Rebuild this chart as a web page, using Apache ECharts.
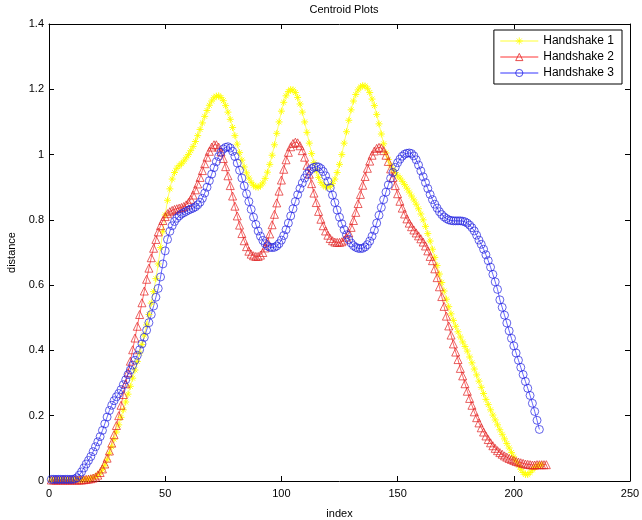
<!DOCTYPE html>
<html>
<head>
<meta charset="utf-8">
<script src="https://cdn.jsdelivr.net/npm/echarts@6/dist/echarts.min.js"></script>
<style>html,body{margin:0;padding:0;background:#fff;}#chart{width:642px;height:520px;}</style>
</head>
<body>
<div id="chart"></div>
<script>
const seriesNames = ['Handshake 1', 'Handshake 2', 'Handshake 3'];
const xTicks = [0, 50, 100, 150, 200, 250];
const yTicks = [0, 0.2, 0.4, 0.6, 0.8, 1, 1.2, 1.4];

const handshake1 = [
0.003,0.003,0.003,0.003,0.003,0.003,0.003,0.003,0.003,0.003,0.004,0.004,0.004,0.005,
0.005,0.006,0.007,0.008,0.010,
0.013,0.018,0.025,0.035,0.048,
0.065,0.085,0.105,0.128,0.150,
0.172,0.195,0.218,0.242,0.266,
0.290,0.315,0.340,0.366,0.392,
0.418,0.447,0.478,0.510,0.545,
0.580,0.620,0.665,0.715,0.765,
0.815,0.860,0.895,0.925,0.945,
0.958,0.966,0.972,0.980,0.990,
1.000,1.012,1.025,1.040,1.058,
1.077,1.097,1.117,1.135,1.151,
1.164,1.174,1.179,1.180,1.175,
1.165,1.150,1.130,1.108,1.083,
1.058,1.032,1.006,0.983,0.962,
0.944,0.928,0.915,0.906,0.901,
0.900,0.904,0.913,0.927,0.946,
0.970,0.998,1.030,1.065,1.100,
1.133,1.160,1.180,1.193,1.199,
1.198,1.190,1.175,1.155,1.130,
1.100,1.068,1.035,1.003,0.975,
0.950,0.930,0.915,0.906,0.901,
0.900,0.903,0.911,0.925,0.945,
0.970,1.000,1.035,1.070,1.105,
1.137,1.164,1.184,1.198,1.207,
1.211,1.210,1.203,1.190,1.170,
1.150,1.123,1.094,1.063,1.033,
1.005,0.985,0.968,0.955,0.945,
0.935,0.928,0.918,0.908,0.897,
0.885,0.873,0.861,0.848,0.834,
0.818,0.800,0.780,0.758,0.735,
0.710,0.685,0.660,0.634,0.608,
0.582,0.557,0.534,0.512,0.492,
0.474,0.457,0.441,0.426,0.412,
0.398,0.380,0.362,0.343,0.325,
0.306,0.287,0.268,0.250,0.234,
0.218,0.202,0.187,0.172,0.157,
0.143,0.129,0.115,0.101,0.087,
0.074,0.061,0.048,0.036,0.026,
0.020,0.020,0.026,0.034,0.041,
0.046,0.049,0.050
];

const handshake2 = [
0.003,0.003,0.003,0.003,0.003,0.003,0.003,0.003,0.003,0.003,0.003,0.003,0.003,0.003,
0.004,0.005,0.006,0.007,0.009,
0.012,0.018,0.026,0.037,0.052,
0.070,0.092,0.116,0.142,0.170,
0.200,0.232,0.265,0.298,0.332,
0.367,0.402,0.438,0.474,0.510,
0.546,0.582,0.618,0.652,0.684,
0.713,0.740,0.763,0.782,0.798,
0.810,0.819,0.825,0.829,0.832,
0.834,0.836,0.838,0.841,0.846,
0.853,0.863,0.876,0.892,0.910,
0.930,0.951,0.972,0.992,1.010,
1.023,1.030,1.030,1.023,1.008,
0.988,0.963,0.935,0.905,0.873,
0.842,0.812,0.784,0.758,0.736,
0.718,0.704,0.695,0.690,0.688,
0.688,0.692,0.700,0.714,0.733,
0.757,0.785,0.817,0.852,0.888,
0.922,0.955,0.984,1.007,1.024,
1.034,1.038,1.036,1.027,1.012,
0.992,0.967,0.940,0.911,0.882,
0.853,0.826,0.802,0.782,0.766,
0.753,0.743,0.736,0.732,0.731,
0.731,0.733,0.738,0.747,0.760,
0.777,0.798,0.823,0.850,0.878,
0.906,0.933,0.958,0.980,0.998,
1.011,1.019,1.022,1.020,1.012,
0.998,0.979,0.956,0.930,0.905,
0.880,0.857,0.836,0.818,0.803,
0.790,0.779,0.769,0.760,0.751,
0.742,0.732,0.720,0.705,0.688,
0.675,0.650,0.623,0.595,0.565,
0.535,0.505,0.475,0.447,0.420,
0.395,0.372,0.345,0.322,0.298,
0.275,0.253,0.232,0.212,0.194,
0.178,0.163,0.150,0.138,0.127,
0.117,0.108,0.100,0.093,0.087,
0.082,0.077,0.073,0.069,0.066,
0.063,0.060,0.058,0.056,0.054,
0.052,0.051,0.050,0.049,0.049,
0.050,0.050,0.050,0.050,0.050
];

const handshake3 = [
0.005,0.005,0.005,0.005,0.005,0.005,0.005,0.005,0.005,0.005,0.006,
0.010,0.018,0.028,0.040,0.052,0.063,0.075,0.090,0.105,
0.120,0.136,0.155,0.175,0.196,0.216,0.232,0.246,0.258,0.268,
0.280,0.295,0.310,0.326,0.340,0.355,0.370,0.385,0.402,0.420,
0.440,0.462,0.485,0.510,0.536,0.563,0.590,0.625,0.665,0.705,
0.740,0.765,0.782,0.795,0.805,0.812,0.818,0.822,0.826,0.830,
0.833,0.836,0.840,0.846,0.854,0.866,0.882,0.900,0.920,0.940,
0.960,0.978,0.994,1.007,1.017,1.022,1.024,1.020,1.010,0.994,
0.974,0.952,0.928,0.904,0.880,0.856,0.832,0.808,0.786,0.766,
0.750,0.737,0.727,0.720,0.716,0.715,0.716,0.720,0.727,0.738,
0.752,0.770,0.790,0.812,0.834,0.856,0.877,0.896,0.913,0.928,
0.940,0.950,0.957,0.961,0.963,0.962,0.957,0.948,0.935,0.918,
0.898,0.876,0.853,0.830,0.808,0.788,0.770,0.754,0.740,0.729,
0.721,0.716,0.713,0.712,0.713,0.717,0.724,0.735,0.750,0.768,
0.790,0.814,0.838,0.862,0.885,0.907,0.927,0.945,0.961,0.975,
0.986,0.995,1.001,1.004,1.005,1.003,0.996,0.984,0.968,0.950,
0.932,0.914,0.896,0.878,0.862,0.848,0.836,0.825,0.816,0.809,
0.804,0.800,0.798,0.797,0.797,0.797,0.797,0.796,0.794,0.790,
0.784,0.776,0.766,0.753,0.738,0.725,0.710,0.693,0.675,0.655,
0.633,0.610,0.587,0.555,0.532,0.508,0.484,0.460,0.437,0.414,
0.392,0.370,0.348,0.326,0.305,0.284,0.262,0.238,0.213,0.186,
0.158
];

function toPairs(arr) { return arr.map((v, i) => [i + 1, v]); }

const FONT = 'Liberation Sans';
const chart = echarts.init(document.getElementById('chart'), null, { renderer: 'canvas' });

const plusPath = 'path://M0,5L10,5M5,0L5,10M1.5,1.5L8.5,8.5M1.5,8.5L8.5,1.5';
const circlePath = 'path://M10,5A5,5,0,1,1,0,5A5,5,0,1,1,10,5Z';
const trianglePath = 'path://M5,0L10,9L0,9Z';

const axisCommon = {
  axisLine: { show: true, onZero: false, lineStyle: { color: '#000', width: 1 } },
  axisTick: { show: true, inside: true, length: 5, lineStyle: { color: '#000' } },
  splitLine: { show: false }
};

const CLEAR = 'rgba(0,0,0,0)';

chart.setOption({
  animation: false,
  backgroundColor: '#fff',
  textStyle: { fontFamily: FONT },
  title: {
    text: 'Centroid Plots',
    left: 339, top: -1, textAlign: 'center',
    textStyle: { fontFamily: FONT, fontSize: 11, fontWeight: 'normal', color: '#000' }
  },
  grid: { left: 49, right: 12, top: 24, bottom: 39, containLabel: false, outerBoundsMode: 'none' },
  legend: {
    orient: 'vertical',
    right: 20, top: 30,
    data: seriesNames,
    backgroundColor: '#fff',
    borderColor: '#000', borderWidth: 1, borderRadius: 0,
    padding: [5, 8, 5, 6],
    itemGap: 4,
    itemWidth: 38, itemHeight: 9,
    itemStyle: { color: CLEAR, borderWidth: 0.8 },
    lineStyle: { width: 0.8 },
    textStyle: { fontFamily: FONT, fontSize: 12, color: '#000' }
  },
  xAxis: [
    Object.assign({
      type: 'value', min: 0, max: 250, interval: 50, position: 'bottom',
      name: 'index', nameLocation: 'middle', nameGap: 27,
      nameTextStyle: { fontFamily: FONT, fontSize: 11, color: '#000' },
      axisLabel: { fontFamily: FONT, fontSize: 11, color: '#000', margin: 7 }
    }, axisCommon),
    Object.assign({
      type: 'value', min: 0, max: 250, interval: 50, position: 'top',
      axisLabel: { show: false }
    }, axisCommon)
  ],
  yAxis: [
    Object.assign({
      type: 'value', min: 0, max: 1.4, interval: 0.2, position: 'left',
      name: 'distance', nameLocation: 'middle', nameGap: 25, nameRotate: 90,
      nameTextStyle: { fontFamily: FONT, fontSize: 11, color: '#000' },
      axisLabel: { fontFamily: FONT, fontSize: 11, color: '#000', margin: 5,
        formatter: v => String(Math.round(v * 10) / 10) }
    }, axisCommon),
    Object.assign({
      type: 'value', min: 0, max: 1.4, interval: 0.2, position: 'right',
      axisLabel: { show: false }
    }, axisCommon)
  ],
  series: [
    {
      name: seriesNames[0], type: 'line', data: toPairs(handshake1),
      symbol: plusPath, symbolSize: 7,
      lineStyle: { color: '#ffff00', width: 0.6 },
      itemStyle: { color: CLEAR, borderColor: '#ffff00', borderWidth: 0.9 }
    },
    {
      name: seriesNames[1], type: 'line', data: toPairs(handshake2),
      symbol: trianglePath, symbolSize: 8,
      lineStyle: { color: '#ff0000', width: 0.6 },
      itemStyle: { color: CLEAR, borderColor: '#e02020', borderWidth: 0.7 }
    },
    {
      name: seriesNames[2], type: 'line', data: toPairs(handshake3),
      symbol: circlePath, symbolSize: 8,
      lineStyle: { color: '#0000ff', width: 0.6 },
      itemStyle: { color: CLEAR, borderColor: '#2020e0', borderWidth: 0.7 }
    }
  ]
});
</script>
</body>
</html>
